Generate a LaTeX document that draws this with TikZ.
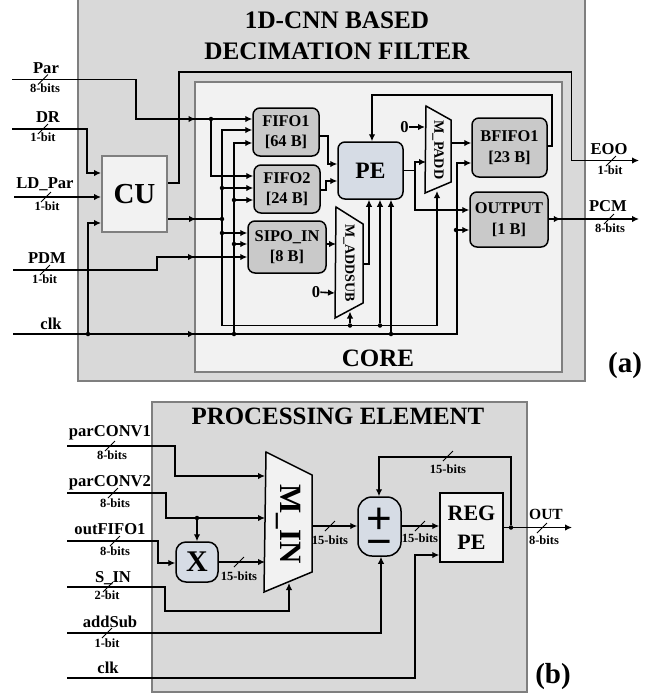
\documentclass[tikz,border=0pt]{standalone}
\usepackage{fontspec}
\setmainfont{Liberation Serif}
\setsansfont{Liberation Sans}
\usepackage{tikz}
\usetikzlibrary{arrows.meta,decorations.markings}
\definecolor{framegray}{HTML}{7F7F7F}
\definecolor{panelgray}{HTML}{D9D9D9}
\definecolor{coregray}{HTML}{F2F2F2}
\definecolor{fifogray}{HTML}{C9C9C9}
\definecolor{peblue}{HTML}{D6DCE5}
\newcommand{\fs}[2]{\fontsize{#1}{#2}\selectfont\bfseries}
\tikzset{
  panel/.style={draw=framegray,fill=#1,line width=2.2pt,inner sep=0pt},
  memblock/.style={draw=black,fill=fifogray,line width=1.5pt,rounded corners=7pt,inner sep=0pt,align=center,font=\fs{16.4}{20.5}},
  peblock/.style={draw=black,fill=peblue,line width=1.5pt,inner sep=0pt,align=center},
  regblock/.style={draw=black,fill=coregray,line width=1.5pt,inner sep=0pt,align=center,font=\fs{22}{29}},
  muxshape/.style={draw=black,fill=coregray,line width=1.5pt,line join=miter},
  wire/.style={line width=1.6pt,>={Latex[length=7pt,width=6.5pt]}},
  midtip/.style={postaction={decorate},decoration={markings,mark=at position #1 with {\arrow{Latex[length=7pt,width=6.5pt]}}}},
  junction/.style={circle,fill=black,minimum size=4.5pt,inner sep=0pt},
  sigtext/.style={inner sep=0pt,font=\fs{16.6}{20}},
  bittext/.style={inner sep=0pt,font=\fs{12.5}{15}},
  plain/.style={inner sep=0pt}
}
\begin{document}
\begin{tikzpicture}[x=1pt,y=-1pt]
  \clip (0,0) rectangle (660,697);

  % (a) decimation filter
  \node[panel=panelgray,minimum width=507pt,minimum height=391pt] (filter) at (331.5,185.5) {};
  \node[panel=coregray,minimum width=367pt,minimum height=290pt] (core) at (378.5,227) {};
  \node[plain,align=center,font=\fs{25.2}{31}] (title) at (337,36) {1D-CNN BASED\\DECIMATION FILTER};
  \node[plain,font=\fs{25}{30}] (corename) at (378,358) {CORE};
  \node[plain,font=\fs{29}{34}] (tagfilter) at (625,366) {(a)};

  \node[panel=coregray,line width=2pt,minimum width=65pt,minimum height=76pt,font=\fs{29}{34}] (cu) at (134.5,194) {CU};
  \node[memblock,minimum width=66pt,minimum height=48pt] (fifoa) at (286,132) {FIFO1\\{[64 B]}};
  \node[memblock,minimum width=66pt,minimum height=48pt] (fifob) at (287,189) {FIFO2\\{[24 B]}};
  \node[memblock,minimum width=78pt,minimum height=52pt] (sipo) at (287,247) {SIPO\_IN\\{[8 B]}};
  \node[peblock,rounded corners=7pt,minimum width=65pt,minimum height=57pt,font=\fs{23.5}{28}] (pe) at (370.5,170.5) {PE};
  \node[memblock,minimum width=75pt,minimum height=59pt] (bfifo) at (509.5,147.5) {BFIFO1\\{[23 B]}};
  \node[memblock,minimum width=78pt,minimum height=55pt] (output) at (509,219.5) {OUTPUT\\{[1 B]}};

  \draw[muxshape] (426,106) -- (451,120) -- (451,182) -- (425,193) -- cycle;
  \draw[muxshape] (336,207) -- (363,224) -- (363,303) -- (335,318) -- cycle;
  \node[plain,rotate=-90,font=\fs{14.2}{17}] (padd) at (438,150) {M\_PADD};
  \node[plain,rotate=-90,font=\fs{14}{17}] (addsub) at (349,263) {M\_ADDSUB};
  \node[sigtext] (zeroa) at (404.5,127) {0};
  \node[sigtext] (zerob) at (316,292) {0};

  \coordinate (par) at (12,79.5);
  \coordinate (dr) at (12,129);
  \coordinate (ldpar) at (14,197);
  \coordinate (pdm) at (13,270);
  \coordinate (clka) at (13,334);
  \coordinate (eoo) at (639,160.5);
  \coordinate (pcm) at (639,219);
  \coordinate (paddin) at (426,162);
  \coordinate (paddout) at (451,143);
  \coordinate (paddzero) at (425,127);
  \coordinate (paddsel) at (437,191);
  \coordinate (addsubin) at (336,244);
  \coordinate (addsubzero) at (335,293);
  \coordinate (addsubsel) at (350,311.5);
  \coordinate (addsubout) at (363,264);
  \coordinate (peout) at (415,170.5);

  \node[junction] (parfork) at (211,119) {};
  \node[junction] (clkcu) at (88,334) {};
  \node[junction] (clkfork) at (234,334) {};
  \node[junction] (clkfifob) at (234,200) {};
  \node[junction] (clksipo) at (234,244) {};
  \node[junction] (clkpe) at (391,334) {};
  \node[junction] (clkout) at (456,230) {};
  \node[junction] (ctrlfork) at (222,219) {};
  \node[junction] (ctrlfifob) at (222,188) {};
  \node[junction] (ctrlsipo) at (222,233) {};
  \node[junction] (ctrlpe) at (380,325.5) {};
  \node[junction] (ctrladd) at (350,325.5) {};

  \draw[wire,->,midtip=223pt] (par) -| (136,119) -- (fifoa.west |- 0,119);
  \draw[wire,->] (parfork) |- (fifob.west |- 0,176);
  \draw[wire,->] (dr) -| (87,173) -- (cu.west |- 0,173);
  \draw[wire,->] (ldpar) -- (cu.west |- ldpar);
  \draw[wire,->] (clkcu) |- (cu.west |- 0,223);
  \draw[wire,->,midtip=182pt] (clka) -| (457,163) -- (bfifo.west |- 0,163);
  \draw[wire,->] (clkout) -- (output.west |- clkout);
  \draw[wire,->] (clkfork) |- (fifoa.west |- 0,143);
  \draw[wire,->] (clkfifob) -- (fifob.west |- clkfifob);
  \draw[wire,->] (clksipo) -- (sipo.west |- clksipo);
  \draw[wire,->] (clkpe) -- (pe.south -| clkpe);
  \draw[wire,midtip=28pt] (cu.east |- ctrlfork) -- (ctrlfork);
  \draw[wire,->] (ctrlfork) |- (fifoa.west |- 0,130);
  \draw[wire,->] (ctrlfork) |- (paddsel |- ctrlpe) -- (paddsel);
  \draw[wire,->] (ctrlfifob) -- (fifob.west |- ctrlfifob);
  \draw[wire,->] (ctrlsipo) -- (sipo.west |- ctrlsipo);
  \draw[wire,->] (ctrlpe) -- (pe.south -| ctrlpe);
  \draw[wire,->] (ctrladd) -- (addsubsel);
  \draw[wire,->,midtip=195pt] (pdm) -| (157,257) -- (sipo.west |- 0,257);
  \draw[wire,->] (fifoa.east |- 0,136) -| (328,164) -- (pe.west |- 0,164);
  \draw[wire,->] (fifob.east |- 0,190) -| (326,181) -- (pe.west |- 0,181);
  \draw[wire,->] (sipo.east |- addsubin) -- (addsubin);
  \draw[wire,->] (zerob) -- (addsubzero);
  \draw[wire,->] (addsubout) -| (pe.south -| 369,0);
  \draw[wire] (pe.east) -- (peout);
  \draw[wire,->] (peout) |- (paddin);
  \draw[wire,->] (peout) |- (output.west |- 0,210);
  \draw[wire,->] (zeroa) -- (paddzero);
  \draw[wire,->] (paddout) -- (bfifo.west |- paddout);
  \draw[wire,->] (bfifo.east |- 0,146) -| (552,95) -| (pe.north -| 372,0);
  \draw[wire,->] (cu.east |- 0,183) -| (179,72) -| (571.5,160.5) -- (eoo);
  \draw[wire,->,midtip=12pt] (output.east |- pcm) -- (pcm);

  \node[sigtext] (parname) at (46,68) {Par};
  \node[bittext] (parbits) at (45,88) {8-bits};
  \node[sigtext] (drname) at (48,117) {DR};
  \node[bittext] (drbits) at (43,137) {1-bit};
  \node[sigtext] (ldname) at (45,184) {LD\_Par};
  \node[bittext] (ldbits) at (47,206) {1-bit};
  \node[sigtext] (pdmname) at (47,258) {PDM};
  \node[bittext] (pdmbits) at (44.5,279) {1-bit};
  \node[sigtext] (clkname) at (51,324) {clk};
  \node[sigtext] (eooname) at (609,149) {EOO};
  \node[bittext] (eoobits) at (610,170) {1-bit};
  \node[sigtext] (pcmname) at (608,206) {PCM};
  \node[bittext] (pcmbits) at (610,228) {8-bits};

  % (b) processing element
  \node[panel=panelgray,minimum width=375pt,minimum height=290pt] (element) at (339.5,547) {};
  \node[plain,font=\fs{24.9}{30}] (elemtitle) at (338,416) {PROCESSING ELEMENT};
  \node[plain,font=\fs{29}{34}] (tagelement) at (553,677) {(b)};

  \node[peblock,rounded corners=10pt,minimum width=42pt,minimum height=40pt,font=\fs{30}{34}] (mult) at (197,562) {X};
  \node[peblock,rounded corners=14pt,minimum width=43pt,minimum height=59pt] (adder) at (379.5,526.5) {};
  \node[plain,align=center,font=\fontsize{44}{23.5}\selectfont\sffamily] (addsign) at (379.5,532.5) {+\\−};
  \node[regblock,minimum width=63pt,minimum height=69pt] (reg) at (471.5,527.5) {REG\\PE};
  \draw[muxshape] (266,452) -- (312,475) -- (312,572) -- (264,592) -- cycle;
  \node[plain,rotate=-90,font=\fs{31}{36}] (muxin) at (288,524) {M\_IN};

  \coordinate (parconva) at (67,446);
  \coordinate (parconvb) at (67,493);
  \coordinate (outfifo) at (67,541);
  \coordinate (sin) at (67,587);
  \coordinate (addsubb) at (67,633);
  \coordinate (clkb) at (67,678);
  \coordinate (outb) at (572,527.5);
  \coordinate (muxa) at (265,476);
  \coordinate (muxb) at (265,518);
  \coordinate (muxc) at (265,562);
  \coordinate (muxsel) at (289,583);
  \coordinate (muxout) at (312,526);

  \node[junction] (multfork) at (197,518) {};
  \node[junction] (regfork) at (511,527.5) {};

  \draw[wire,->] (parconva) -| (175,476) -- (muxa);
  \draw[wire,->] (parconvb) -| (166,518) -- (muxb);
  \draw[wire,->] (multfork) -- (mult.north);
  \draw[wire,->] (outfifo) -| (158,563) -- (mult.west |- 0,563);
  \draw[wire,->] (mult.east |- muxc) -- (muxc);
  \draw[wire,->] (sin) -| (165,611) -| (muxsel);
  \draw[wire,->] (addsubb) -| (adder.south -| 381,0);
  \draw[wire,->] (clkb) -| (415,555) -- (reg.west |- 0,555);
  \draw[wire,->] (muxout) -- (adder.west |- muxout);
  \draw[wire,->] (adder.east |- muxout) -- (reg.west |- muxout);
  \draw[wire,->] (reg.east) -- (outb);
  \draw[wire,->] (regfork) |- (379,457) -- (adder.north -| 379,0);

  \node[sigtext] (conv1name) at (110,433) {parCONV1};
  \node[bittext] (conv1bits) at (112,455) {8-bits};
  \node[sigtext] (conv2name) at (110,483) {parCONV2};
  \node[bittext] (conv2bits) at (115,503) {8-bits};
  \node[sigtext] (fifoname) at (110,529) {outFIFO1};
  \node[bittext] (fifobits) at (115,551) {8-bits};
  \node[sigtext] (sinname) at (113,578) {S\_IN};
  \node[bittext] (sinbits) at (107,595) {2-bit};
  \node[sigtext] (addname) at (110,622) {addSub};
  \node[bittext] (addbits) at (107,643) {1-bit};
  \node[sigtext] (clkbname) at (108,668) {clk};
  \node[bittext] (multbits) at (239,576) {15-bits};
  \node[bittext] (muxbits) at (330,540) {15-bits};
  \node[bittext] (addbitsout) at (420,538) {15-bits};
  \node[bittext] (fbbits) at (448,469) {15-bits};
  \node[sigtext,font=\fs{15.5}{18}] (outname) at (546,514) {OUT};
  \node[bittext] (outbits) at (544,540) {8-bits};

  % bus ticks
  \foreach \x/\y in {43/79.5,43/129,46/197,45/270,611/161,609/219,110/446,113/493,115/541,108/587,107/633,239/562,330/526,420/526,448/456,542/528}
    \draw[line width=0.9pt] (\x,\y) ++(-5,5) -- ++(10,-10);
\end{tikzpicture}
\end{document}
